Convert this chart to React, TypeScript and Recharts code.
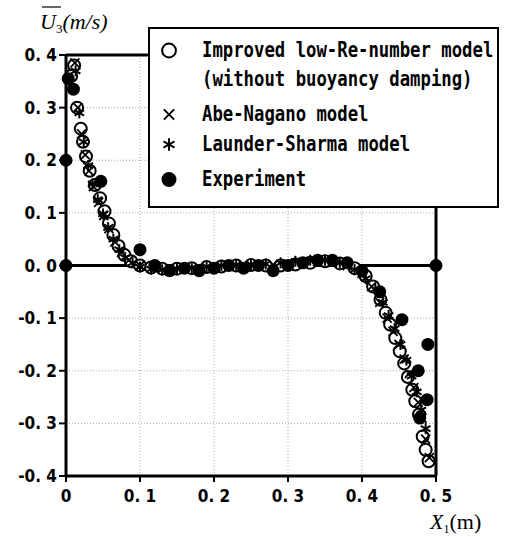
import * as React from 'react';
import { ScatterChart, Scatter, XAxis, YAxis, CartesianGrid, ReferenceLine, Legend } from 'recharts';

// improved low-Re-number model (open circles)
const improvedX = [0.011, 0.007, 0.015, 0.02, 0.023, 0.027, 0.032, 0.039, 0.046, 0.052, 0.058, 0.064, 0.071, 0.079, 0.088, 0.1, 0.115, 0.13, 0.15, 0.17, 0.19, 0.21, 0.23, 0.25, 0.27, 0.29, 0.31, 0.33, 0.35, 0.37, 0.39, 0.405, 0.415, 0.425, 0.432, 0.438, 0.445, 0.451, 0.457, 0.462, 0.468, 0.472, 0.477, 0.482, 0.486, 0.49];
const improvedY = [0.38, 0.36, 0.3, 0.26, 0.235, 0.207, 0.18, 0.153, 0.128, 0.103, 0.08, 0.058, 0.037, 0.02, 0.008, 0.0, -0.004, -0.006, -0.006, -0.005, -0.003, -0.002, 0.0, 0.001, 0.0, 0.0, 0.002, 0.005, 0.008, 0.004, -0.005, -0.02, -0.04, -0.065, -0.09, -0.112, -0.138, -0.163, -0.186, -0.212, -0.236, -0.258, -0.283, -0.325, -0.35, -0.372];

// Abe-Nagano model (x)
const abeX = [0.012, 0.016, 0.021, 0.026, 0.031, 0.037, 0.044, 0.051, 0.058, 0.066, 0.075, 0.085, 0.1, 0.12, 0.14, 0.16, 0.18, 0.2, 0.22, 0.24, 0.26, 0.28, 0.3, 0.32, 0.34, 0.36, 0.38, 0.4, 0.413, 0.424, 0.434, 0.442, 0.45, 0.457, 0.464, 0.47, 0.476, 0.481, 0.486, 0.491];
const abeY = [0.385, 0.3, 0.25, 0.21, 0.18, 0.15, 0.12, 0.095, 0.07, 0.045, 0.025, 0.01, 0.0, -0.005, -0.006, -0.005, -0.004, -0.002, 0.0, 0.0, 0.0, 0.001, 0.003, 0.006, 0.008, 0.006, 0.0, -0.015, -0.04, -0.07, -0.1, -0.125, -0.15, -0.178, -0.205, -0.232, -0.26, -0.29, -0.33, -0.365];

// Launder-Sharma model (*)
const launderX = [0.013, 0.018, 0.024, 0.03, 0.036, 0.043, 0.05, 0.057, 0.064, 0.072, 0.08, 0.09, 0.1, 0.115, 0.13, 0.15, 0.17, 0.19, 0.21, 0.23, 0.25, 0.27, 0.29, 0.31, 0.33, 0.35, 0.37, 0.39, 0.405, 0.418, 0.428, 0.436, 0.444, 0.452, 0.46, 0.467, 0.474, 0.48, 0.486];
const launderY = [0.37, 0.29, 0.235, 0.19, 0.155, 0.125, 0.098, 0.072, 0.05, 0.03, 0.015, 0.005, -0.003, -0.007, -0.008, -0.006, -0.004, -0.002, 0.0, 0.001, 0.002, 0.003, 0.005, 0.008, 0.01, 0.01, 0.005, -0.008, -0.025, -0.045, -0.07, -0.095, -0.12, -0.15, -0.18, -0.21, -0.24, -0.275, -0.31];

// experiment (filled circles)
const expX = [0, 0, 0.003, 0.01, 0.047, 0.1, 0.12, 0.14, 0.16, 0.18, 0.2, 0.22, 0.24, 0.26, 0.28, 0.3, 0.32, 0.34, 0.36, 0.38, 0.4, 0.424, 0.454, 0.476, 0.489, 0.488, 0.478, 0.5];
const expY = [0, 0.2, 0.355, 0.335, 0.16, 0.03, 0.0, -0.01, -0.005, -0.01, -0.005, 0.0, -0.005, 0.0, -0.01, 0.0, 0.005, 0.01, 0.01, 0.005, -0.01, -0.05, -0.103, -0.2, -0.15, -0.255, -0.29, 0];

const xTicks = [0, 0.1, 0.2, 0.3, 0.4, 0.5];
const yTicks = [0.4, 0.3, 0.2, 0.1, 0, -0.1, -0.2, -0.3, -0.4];

const legendLabels = [
    ['Improved low-Re-number model', '(without buoyancy damping)'],
    ['Abe-Nagano model'],
    ['Launder-Sharma model'],
    ['Experiment'],
];

const toPoints = (xs: number[], ys: number[]) => xs.map((x, i) => ({ x, y: ys[i] }));

const OpenCircle = (p: any) => {
    const s = p.s || 1;
    return <circle cx={p.cx} cy={p.cy} r={6 * s} fill="#fff" stroke="#000" strokeWidth={2} />;
};
const Cross = (p: any) => {
    const d = 4.5 * (p.s || 1);
    return (
        <g stroke="#000" strokeWidth={1.8}>
            <line x1={p.cx - d} y1={p.cy - d} x2={p.cx + d} y2={p.cy + d} />
            <line x1={p.cx - d} y1={p.cy + d} x2={p.cx + d} y2={p.cy - d} />
        </g>
    );
};
const Star = (p: any) => {
    const d = 5.5 * (p.s || 1);
    return (
        <g stroke="#000" strokeWidth={2}>
            <line x1={p.cx} y1={p.cy - d} x2={p.cx} y2={p.cy + d} />
            <line x1={p.cx - d * 0.866} y1={p.cy - d / 2} x2={p.cx + d * 0.866} y2={p.cy + d / 2} />
            <line x1={p.cx - d * 0.866} y1={p.cy + d / 2} x2={p.cx + d * 0.866} y2={p.cy - d / 2} />
        </g>
    );
};
const Dot = (p: any) => <circle cx={p.cx} cy={p.cy} r={6.5 * (p.s || 1)} fill="#000" />;

const legendMarks = [OpenCircle, Cross, Star, Dot];
const rowCenters = [21, 85, 115, 150];

const textStyle: React.CSSProperties = {
    fontFamily: 'DejaVu Sans Mono',
    fontWeight: 'bold',
    fontSize: 17.3,
    display: 'block',
    transform: 'scaleY(1.25)',
    transformOrigin: 'left center',
    whiteSpace: 'pre',
    lineHeight: '29px',
};

const LegendBox = () => (
    <div style={{ width: 351, height: 181, border: '2px solid #000', background: '#fff', boxSizing: 'border-box', position: 'relative' }}>
        {legendLabels.map((lines, i) => {
            const Mark = legendMarks[i];
            return (
                <div key={i} style={{ position: 'absolute', left: 0, top: rowCenters[i] - 14.5 }}>
                    <svg width={40} height={29} style={{ position: 'absolute', left: 0, top: 0 }}>
                        <Mark cx={19} cy={14.5} s={1.15} />
                    </svg>
                    <div style={{ position: 'absolute', left: 52, top: 0 }}>
                        {lines.map((t) => (
                            <div key={t} style={textStyle}>{t}</div>
                        ))}
                    </div>
                </div>
            );
        })}
    </div>
);

const YTitle = () => (
    <g>
        <line x1={42} y1={7} x2={61} y2={7} stroke="#000" strokeWidth={1.2} />
        <text x={40} y={29} fontFamily="Liberation Serif" fontStyle="italic" fontSize={22} fill="#000">
            U<tspan fontSize={13} dy={4} fontStyle="normal">3</tspan><tspan dy={-4}>(m/s)</tspan>
        </text>
    </g>
);

const XTitle = () => (
    <text x={430} y={529} fontFamily="Liberation Serif" fontSize={22} fill="#000">
        <tspan fontStyle="italic">X</tspan><tspan fontSize={12} dy={4}>1</tspan><tspan dy={-4}>(m)</tspan>
    </text>
);

const fmtY = (v: number) => (v === 0 ? '0. 0' : v.toFixed(1).replace('.', '. '));
const fmtX = (v: number) => (v === 0 ? '0' : v.toFixed(1).replace('.', '. '));

const tickStyle = { fill: '#000', fontSize: 17, fontWeight: 'bold', fontFamily: 'DejaVu Sans Condensed' };

export default function App() {
    return (
        <div style={{ position: 'absolute', left: 0, top: 0 }}>
            <ScatterChart width={506} height={537} margin={{ top: 55, right: 70, bottom: 21, left: 10 }}>
                <CartesianGrid stroke="#aaa" strokeDasharray="1 2" />
                <XAxis
                    type="number"
                    dataKey="x"
                    domain={[0, 0.5]}
                    ticks={xTicks}
                    tickFormatter={fmtX}
                    height={40}
                    tick={tickStyle}
                    tickSize={6}
                    tickMargin={8}
                    axisLine={{ stroke: '#000', strokeWidth: 3 }}
                    tickLine={{ stroke: '#000', strokeWidth: 2 }}
                    label={<XTitle />}
                />
                <YAxis
                    type="number"
                    dataKey="y"
                    domain={[-0.4, 0.4]}
                    ticks={yTicks}
                    tickFormatter={fmtY}
                    width={56}
                    tick={tickStyle}
                    tickSize={7}
                    tickMargin={2}
                    axisLine={{ stroke: '#000', strokeWidth: 3 }}
                    tickLine={{ stroke: '#000', strokeWidth: 2 }}
                    label={<YTitle />}
                />
                <ReferenceLine y={0} stroke="#000" strokeWidth={3} />
                <ReferenceLine y={0.4} stroke="#000" strokeWidth={3} />
                <ReferenceLine x={0.5} stroke="#000" strokeWidth={3} />
                <Scatter data={toPoints(improvedX, improvedY)} shape={OpenCircle} isAnimationActive={false} />
                <Scatter data={toPoints(abeX, abeY)} shape={Cross} isAnimationActive={false} />
                <Scatter data={toPoints(launderX, launderY)} shape={Star} isAnimationActive={false} />
                <Scatter data={toPoints(expX, expY)} shape={Dot} isAnimationActive={false} />
                <Legend
                    layout="vertical"
                    align="center"
                    verticalAlign="middle"
                    content={<LegendBox />}
                    wrapperStyle={{ left: 148, top: 27, width: 351, height: 181 }}
                />
            </ScatterChart>
        </div>
    );
}
